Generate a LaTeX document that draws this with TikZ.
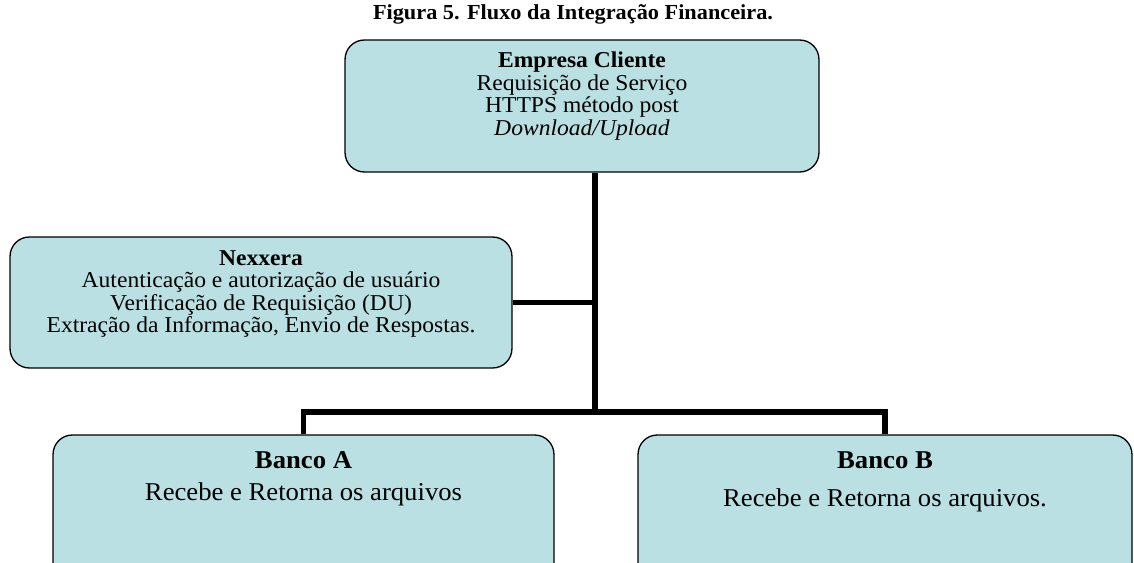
\documentclass[tikz,border=0pt]{standalone}
\usepackage{fontspec}
\setmainfont{Liberation Serif}[FakeStretch=1.04]
\usetikzlibrary{positioning}

\definecolor{azul}{HTML}{BAE0E3}
\tikzset{
  caixa/.style={draw, rounded corners=11pt, fill=azul, line width=0.75pt},
  texto/.style={align=center, inner sep=0pt, font=\fontsize{12.9}{12.8}\selectfont},
  banco/.style={align=center, inner sep=0pt},
  liga/.style={line width=3pt}
}

\begin{document}
\begin{tikzpicture}[x=0.02cm, y=-0.02cm]
\useasboundingbox (0,0) rectangle (1134,563);
\clip (0,0) rectangle (1134,563);
% titulo
\node[font=\bfseries\fontsize{12.2}{13}\selectfont] (titulo) at (573,14) {Figura 5. Fluxo da Integração Financeira.};
% caixas
\node[caixa, minimum width=9.48cm, minimum height=2.64cm] (cliente) at (582,106) {};
\node[caixa, minimum width=10.04cm, minimum height=2.62cm] (nexxera) at (261,302.5) {};
\node[caixa, minimum width=10.02cm, minimum height=3.3cm] (bancoA) at (303.5,517.5) {};
\node[caixa, minimum width=9.88cm, minimum height=3.3cm] (bancoB) at (885,517.5) {};
% textos
\node[texto] (clienteTxt) at (582,96) {\textbf{Empresa Cliente}\\Requisição de Serviço\\HTTPS método post\\\textit{Download/Upload}};
\node[texto] (nexxeraTxt) at (261,294) {\textbf{Nexxera}\\Autenticação e autorização de usuário\\Verificação de Requisição (DU)\\Extração da Informação, Envio de Respostas.};
\node[banco, font=\fontsize{14.6}{18.1}\selectfont] (bancoATxt) at (303.5,479) {\textbf{Banco A}\\Recebe e Retorna os arquivos};
\node[banco, font=\fontsize{14.6}{21.5}\selectfont] (bancoBTxt) at (885,482) {\textbf{Banco B}\\Recebe e Retorna os arquivos.};
% ligacoes
\coordinate (juncao) at (595,412);
\draw[liga] (cliente.south -| juncao) -- (juncao);
\draw[liga] (nexxera.east) -- (nexxera.east -| juncao);
\draw[liga] (bancoA.north) |- (juncao) -| (bancoB.north);
\end{tikzpicture}
\end{document}
